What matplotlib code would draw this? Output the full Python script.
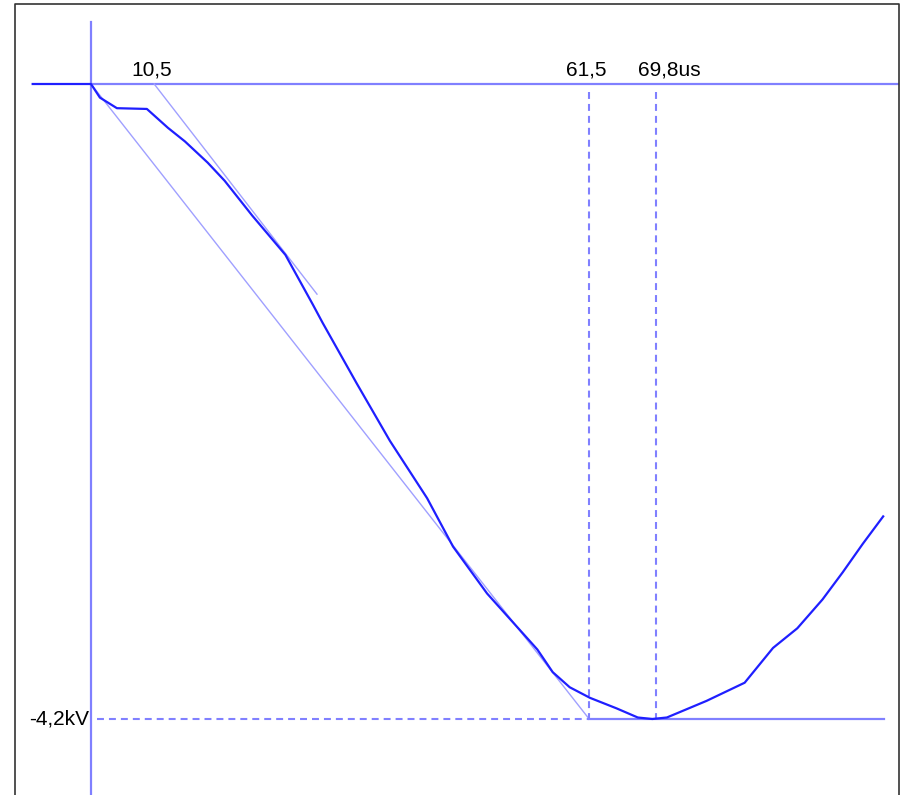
import matplotlib
matplotlib.use("Agg")
import matplotlib.pyplot as plt
from matplotlib.lines import Line2D

plt.rcParams['font.family'] = ['Liberation Sans', 'DejaVu Sans']
plt.rcParams['lines.scale_dashes'] = False

# signal (time in us, voltage in kV)
t = [-7.2, 0.0, 1.1, 3.2, 6.9, 9.5, 11.6, 14.4, 16.5, 19.9, 24.0, 27.4, 28.6,
     32.8, 36.9, 41.5, 44.7, 48.9, 55.1, 57.0, 59.1, 61.6, 64.9, 67.5, 69.3,
     71.1, 76.0, 80.7, 84.2, 87.2, 90.3, 92.8, 95.3, 97.8]
u = [0.0, 0.0, -0.09, -0.16, -0.165, -0.29, -0.38, -0.52, -0.64, -0.87, -1.13,
     -1.46, -1.58, -1.98, -2.36, -2.74, -3.06, -3.37, -3.74, -3.89, -3.99,
     -4.06, -4.13, -4.19, -4.20, -4.19, -4.08, -3.96, -3.73, -3.60, -3.41,
     -3.23, -3.04, -2.86]

u_peak = -4.2
t_cross = 61.5      # tangent meets peak level
t_peak = 69.8
t_front = 7.8       # front tangent start ("10,5")
front_tan_t = [t_front, 27.9]
front_tan_u = [0.0, -1.39]
t_end = 97.9

px_us = 8.1          # pixel per us
px_kv = 635 / 4.2    # pixel per kV
W, H = 906, 795
x0, y0 = 91, 84      # screen position of t=0, u=0

fig = plt.figure(figsize=(W / 100, H / 100), dpi=100)
ax = fig.add_axes([0, 0, 1, 1])
ax.set_xlim(-x0 / px_us, (W - x0) / px_us)
ax.set_ylim(-(H - y0) / px_kv, y0 / px_kv)
ax.axis('off')

light = '#8080ff'
pale = '#a0a0ff'

# axes
ax.plot([0, 99.6], [0, 0], color=light, lw=1.6)
ax.plot([0, 0], [(y0 - 22) / px_kv, -(H - y0) / px_kv], color=light, lw=1.6)

# tangents
ax.plot([0, t_cross], [0, u_peak], color=pale, lw=1.0)
ax.plot(front_tan_t, front_tan_u, color=pale, lw=1.0)
ax.plot([t_cross, t_end], [u_peak, u_peak], color=light, lw=1.6)

# dashed markers
dash = (5, 3.6)
ax.plot([0.75, t_cross], [u_peak, u_peak], color=light, lw=1.5, dashes=dash)
for tm in (t_cross, t_peak):
    ax.plot([tm, tm], [-0.05, u_peak], color=light, lw=1.5, dashes=dash)

# signal
ax.plot(t, u, color='#1f1fff', lw=1.6)

fs = 15
ax.text(t_front - 0.3, 0.056, '10,5', fontsize=fs, ha='center', va='baseline')
ax.text(t_cross - 0.3, 0.056, '61,5', fontsize=fs, ha='center', va='baseline')
ax.text(67.5, 0.056, '69,8us', fontsize=fs, ha='left', va='baseline')
ax.text(-0.25, u_peak, '-4,2kV', fontsize=fs, ha='right', va='center')

# screen frame (open at the bottom)
fx = [15 / W, 15 / W, 899 / W, 899 / W]
fy = [0, 1 - 4 / H, 1 - 4 / H, 0]
fig.add_artist(Line2D(fx, fy, color='#333333', lw=1.2))

plt.savefig('out.png', dpi=100)
